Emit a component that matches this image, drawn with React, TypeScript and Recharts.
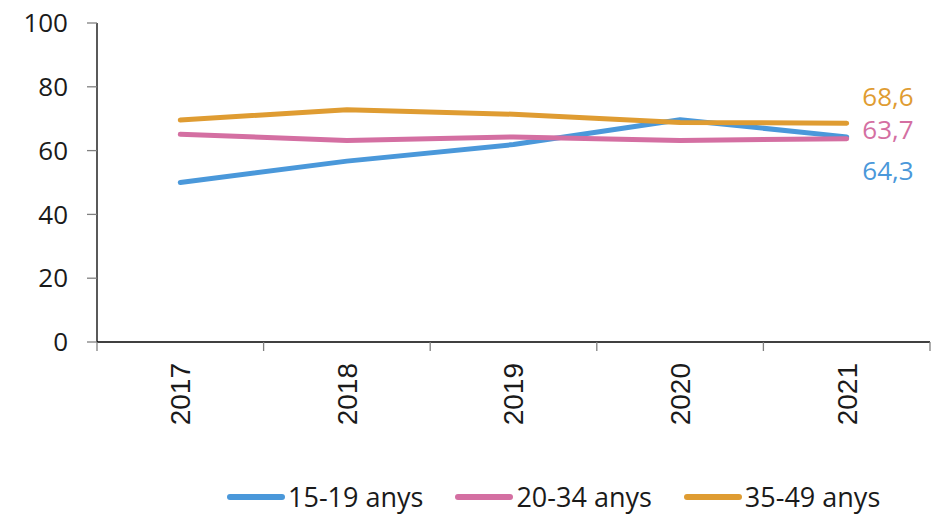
import React from "react";
import { LineChart, Line, XAxis, YAxis, Legend, LabelList } from "recharts";

const years = ["2017", "2018", "2019", "2020", "2021"];
const teen = [50.0, 56.7, 61.9, 69.7, 64.3];
const young = [65.1, 63.2, 64.3, 63.2, 63.7];
const adult = [69.6, 72.8, 71.4, 68.8, 68.6];
const yTicks = [0, 20, 40, 60, 80, 100];

const seriesNames = ["15-19 anys", "20-34 anys", "35-49 anys"];
const seriesKeys = ["teen", "young", "adult"];
const colors = ["#4a98da", "#d46fa2", "#df9c32"];
const lastLabels = ["64,3", "63,7", "68,6"];
const labelDy = [34, -9, -26];

const data = years.map((y, i) => ({
  year: y,
  teen: teen[i],
  young: young[i],
  adult: adult[i],
}));

const SANS = "'Open Sans', 'Noto Sans', sans-serif";

const XTick = (props: any) => {
  const { x, y, payload, index } = props;
  const half = payload && payload.offset ? payload.offset : 833 / years.length / 2;
  const top = y - 9;
  return (
    <g>
      <line x1={x - half} y1={top} x2={x - half} y2={top + 9} stroke="#808080" strokeWidth={1.3} />
      {index === years.length - 1 && (
        <line x1={x + half} y1={top} x2={x + half} y2={top + 9} stroke="#808080" strokeWidth={1.3} />
      )}
      <text
        x={x}
        y={y + 12}
        dy="0.355em"
        transform={`rotate(-90, ${x}, ${y + 12})`}
        textAnchor="end"
        fontFamily="'Liberation Sans', Arial, sans-serif"
        fontSize={28}
        fill="#1a1a1a"
      >
        {payload.value}
      </text>
    </g>
  );
};

const makeEndLabel = (s: number) => (props: any) => {
  const { x, y, index } = props;
  if (index !== years.length - 1) return null;
  return (
    <text
      x={x + 67}
      y={y + labelDy[s]}
      dy="0.355em"
      textAnchor="end"
      fontFamily={SANS}
      fontSize={26}
      fill={colors[s]}
    >
      {lastLabels[s]}
    </text>
  );
};

const LegendContent = () => (
  <div style={{ display: "flex", alignItems: "center", paddingLeft: 226, fontFamily: SANS, fontSize: 27, color: "#1a1a1a" }}>
    {seriesNames.map((n, i) => (
      <div key={n} style={{ display: "flex", alignItems: "center", marginRight: 31 }}>
        <svg width={60} height={12} style={{ display: "block" }}>
          <line x1={4} y1={6} x2={56} y2={6} stroke={colors[i]} strokeWidth={6} strokeLinecap="round" />
        </svg>
        <span style={{ marginLeft: 2, lineHeight: "32px", whiteSpace: "nowrap" }}>{n}</span>
      </div>
    ))}
  </div>
);

export default function App() {
  return (
    <div style={{ position: "absolute", left: 0, top: 0, width: 938, height: 514, background: "#fff" }}>
      <LineChart width={938} height={514} data={data} margin={{ top: 23, right: 8, left: 0, bottom: 0 }}>
        <XAxis
          dataKey="year"
          scale="band"
          height={172}
          tickLine={false}
          tickSize={9}
          tickMargin={0}
          axisLine={{ stroke: "#000", strokeWidth: 1.3 }}
          tick={<XTick />}
          interval={0}
        />
        <YAxis
          width={97}
          domain={[0, 100]}
          ticks={yTicks}
          tickSize={10}
          tickMargin={19}
          axisLine={{ stroke: "#000", strokeWidth: 1.3 }}
          tickLine={{ stroke: "#808080", strokeWidth: 1.3 }}
          tick={{ fontFamily: SANS, fontSize: 26, fill: "#1a1a1a" }}
        />
        <Legend
          layout="horizontal"
          verticalAlign="middle"
          align="center"
          wrapperStyle={{ top: 481, left: 0, width: 938 }}
          content={<LegendContent />}
        />
        {seriesKeys.map((k, s) => (
          <Line
            key={k}
            dataKey={k}
            name={seriesNames[s]}
            stroke={colors[s]}
            strokeWidth={5}
            strokeLinecap="round"
            strokeLinejoin="round"
            dot={false}
            activeDot={false}
            isAnimationActive={false}
          >
            <LabelList dataKey={k} content={makeEndLabel(s)} />
          </Line>
        ))}
      </LineChart>
    </div>
  );
}
